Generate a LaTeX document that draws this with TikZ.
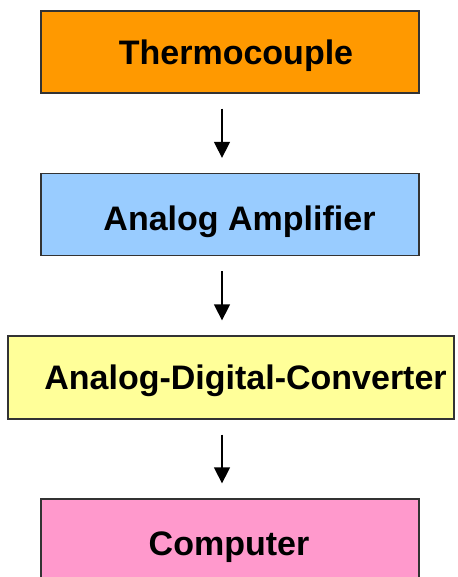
\documentclass[tikz,border=0pt]{standalone}
\usepackage{fontspec}
\setmainfont{Liberation Sans}
\usetikzlibrary{arrows.meta}
\definecolor{tcorange}{HTML}{FF9900}
\definecolor{ampblue}{HTML}{99CCFF}
\definecolor{adcyellow}{HTML}{FFFF99}
\definecolor{pcpink}{HTML}{FF99CC}
\definecolor{edge}{HTML}{333333}
\tikzset{
  stagebox/.style={draw=edge, line width=1.3pt, rectangle, inner sep=0pt, minimum width=378pt, minimum height=82pt},
  lbl/.style={anchor=base, inner sep=0pt, font=\bfseries\fontsize{34}{40}\selectfont, text=black},
  flow/.style={line width=1.5pt, -{Triangle[width=16pt,length=16pt]}, shorten <=15pt, shorten >=15pt}
}
\begin{document}
\begin{tikzpicture}[x=1pt,y=-1pt]
\useasboundingbox (0,0) rectangle (457,577);
\clip (0,0) rectangle (457,577);
\fill[white] (0,0) rectangle (457,577);
\node[stagebox, fill=tcorange] (tc) at (230,52) {};
\node[stagebox, fill=ampblue] (amp) at (230,214.5) {};
\node[stagebox, fill=adcyellow, minimum width=446pt, minimum height=83pt] (adc) at (231,377.5) {};
\node[stagebox, fill=pcpink] (pc) at (230,540) {};
\node[lbl] (tct) at (236,65) {Thermocouple};
\node[lbl] (ampt) at (239.5,230) {Analog Amplifier};
\node[lbl] (adct) at (245.5,389) {Analog-Digital-Converter};
\node[lbl] (pct) at (229,555) {Computer};
\draw[flow] ([xshift=-8pt]tc.south) -- ([xshift=-8pt]amp.north);
\draw[flow] ([xshift=-8pt]amp.south) -- ([xshift=-8pt]amp.south |- adc.north);
\draw[flow] ([xshift=-8pt]amp.south |- adc.south) -- ([xshift=-8pt]pc.north);
\end{tikzpicture}
\end{document}
